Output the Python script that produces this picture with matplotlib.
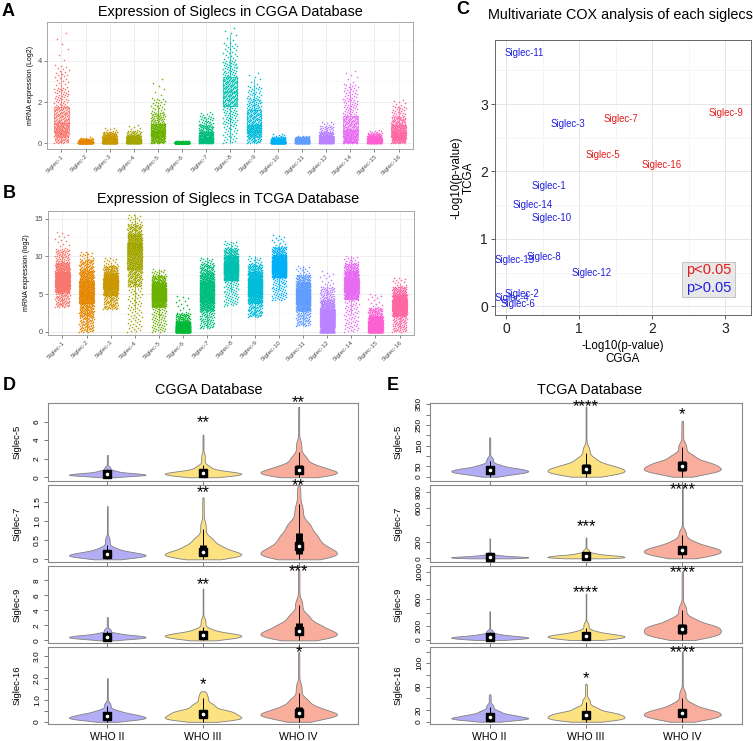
import numpy as np
import matplotlib
matplotlib.use('Agg')
import matplotlib.pyplot as plt

plt.rcParams['font.family'] = ['Liberation Sans', 'DejaVu Sans']

# ------------------------------------------------------------------ data
siglecs_strip = ['Siglec-1', 'Siglec-2', 'Siglec-3', 'Siglec-4', 'Siglec-5',
                 'Siglec-6', 'Siglec-7', 'Siglec-8', 'Siglec-9', 'Siglec-10',
                 'Siglec-11', 'Siglec-12', 'Siglec-14', 'Siglec-15', 'Siglec-16']
# quantile levels at which the strip-chart distributions were read
strip_probs = [0, 0.1, 0.25, 0.5, 0.75, 0.9, 0.98, 1.0]

cgga_q = [
    [0.0, 0.3, 0.55, 1.0, 1.75, 2.7, 3.8, 5.35],
    [0.0, 0.0, 0.02, 0.05, 0.08, 0.13, 0.2, 0.28],
    [0.0, 0.0, 0.03, 0.1, 0.25, 0.4, 0.55, 0.75],
    [0.0, 0.0, 0.05, 0.12, 0.25, 0.38, 0.6, 0.9],
    [0.0, 0.15, 0.35, 0.6, 0.95, 1.5, 2.2, 3.1],
    [0.0, 0.0, 0.0, 0.02, 0.04, 0.06, 0.08, 0.1],
    [0.0, 0.05, 0.12, 0.25, 0.55, 0.9, 1.3, 1.5],
    [0.0, 0.9, 1.8, 2.5, 3.2, 4.0, 4.9, 5.6],
    [0.0, 0.3, 0.55, 0.9, 1.6, 2.2, 2.8, 3.4],
    [0.0, 0.0, 0.02, 0.06, 0.12, 0.2, 0.3, 0.45],
    [0.0, 0.0, 0.04, 0.1, 0.17, 0.24, 0.3, 0.35],
    [0.0, 0.02, 0.08, 0.17, 0.35, 0.55, 0.85, 1.05],
    [0.0, 0.1, 0.3, 0.65, 1.3, 2.2, 2.9, 3.5],
    [0.0, 0.02, 0.07, 0.15, 0.25, 0.35, 0.5, 0.63],
    [0.0, 0.15, 0.3, 0.55, 0.9, 1.3, 1.8, 2.1],
]
tcga_q = [
    [3.3, 5.2, 6.0, 6.9, 7.9, 9.2, 11.0, 13.2],
    [0.0, 2.0, 3.8, 5.3, 6.8, 8.2, 9.6, 10.6],
    [3.0, 4.8, 5.7, 6.4, 7.1, 7.8, 8.8, 9.8],
    [0.0, 6.0, 8.3, 10.3, 11.8, 13.0, 14.3, 15.5],
    [0.0, 3.3, 4.2, 5.0, 5.8, 6.6, 7.5, 8.3],
    [0.0, 0.0, 0.2, 0.5, 0.9, 1.4, 2.5, 4.8],
    [0.5, 2.8, 4.0, 5.3, 6.6, 7.8, 9.0, 9.8],
    [3.5, 6.8, 7.6, 8.4, 9.2, 10.1, 11.1, 12.0],
    [2.0, 3.8, 4.8, 5.9, 7.0, 8.0, 9.0, 10.0],
    [4.2, 7.2, 7.9, 8.6, 9.4, 10.2, 11.3, 12.8],
    [0.8, 2.8, 3.7, 4.7, 5.7, 6.6, 7.6, 8.7],
    [0.0, 0.0, 0.7, 1.8, 3.0, 4.3, 6.0, 8.0],
    [0.0, 4.3, 5.3, 6.2, 7.2, 8.1, 9.1, 10.0],
    [0.0, 0.0, 0.3, 0.8, 1.4, 2.1, 3.2, 5.0],
    [0.0, 2.1, 2.8, 3.5, 4.2, 5.0, 6.0, 7.2],
]

cox_labels = ['Siglec-11', 'Siglec-3', 'Siglec-7', 'Siglec-9', 'Siglec-5',
              'Siglec-16', 'Siglec-1', 'Siglec-14', 'Siglec-10', 'Siglec-8',
              'Siglec-15', 'Siglec-12', 'Siglec-2', 'Siglec-4', 'Siglec-6']
cox_cgga = [0.25, 0.85, 1.57, 3.01, 1.32, 2.13, 0.59, 0.36, 0.63, 0.52,
            0.12, 1.17, 0.22, 0.08, 0.16]
cox_tcga = [3.76, 2.70, 2.78, 2.87, 2.24, 2.10, 1.78, 1.50, 1.31, 0.73,
            0.68, 0.49, 0.18, 0.12, 0.03]
cox_significant = [False, False, True, True, True, True, False, False, False,
                   False, False, False, False, False, False]

grades = ['WHO II', 'WHO III', 'WHO IV']
violin_genes = ['Siglec-5', 'Siglec-7', 'Siglec-9', 'Siglec-16']
violin_probs = [0, 0.1, 0.25, 0.5, 0.75, 0.9, 0.97, 1.0]

cgga_violin = [
    [[0.0, 0.15, 0.22, 0.33, 0.48, 0.75, 1.2, 2.4],
     [0.0, 0.18, 0.28, 0.45, 0.7, 1.3, 2.6, 4.6],
     [0.0, 0.25, 0.4, 0.75, 1.35, 2.4, 4.0, 7.6]],
    [[0.0, 0.05, 0.08, 0.13, 0.2, 0.32, 0.6, 1.4],
     [0.0, 0.06, 0.11, 0.2, 0.38, 0.6, 1.0, 1.63],
     [0.0, 0.08, 0.15, 0.35, 0.68, 1.0, 1.45, 1.95]],
    [[0.0, 0.2, 0.32, 0.5, 0.7, 1.0, 1.6, 3.1],
     [0.0, 0.25, 0.42, 0.7, 1.0, 1.6, 3.0, 6.9],
     [0.0, 0.35, 0.7, 1.3, 2.3, 3.6, 5.5, 9.5]],
    [[0.0, 0.1, 0.15, 0.25, 0.38, 0.55, 0.9, 2.0],
     [0.0, 0.1, 0.18, 0.35, 0.55, 0.85, 1.2, 1.4],
     [0.0, 0.15, 0.28, 0.42, 0.7, 1.1, 1.8, 3.2]],
]
tcga_violin = [
    [[0, 12, 20, 30, 42, 60, 95, 190],
     [0, 12, 22, 38, 60, 95, 150, 340],
     [0, 18, 30, 50, 75, 110, 165, 270]],
    [[0, 4, 8, 15, 25, 40, 70, 240],
     [0, 6, 12, 25, 40, 65, 110, 250],
     [0, 30, 60, 100, 150, 220, 350, 880]],
    [[0, 12, 25, 40, 60, 90, 150, 420],
     [0, 18, 35, 60, 90, 140, 260, 680],
     [0, 50, 90, 160, 230, 330, 520, 1000]],
    [[0, 3, 5, 8, 13, 20, 30, 47],
     [0, 3, 6, 11, 17, 26, 40, 65],
     [0, 5, 9, 15, 22, 33, 55, 120]],
]
cgga_stars = [['', '**', '**'], ['', '**', '**'], ['', '**', '***'], ['', '*', '*']]
cgga_star_y = [[0, 5.9, 8.0], [0, 1.75, 1.93], [0, 7.4, 9.2], [0, 1.7, 3.18]]
tcga_stars = [['', '****', '*'], ['', '***', '****'], ['', '****', '****'], ['', '*', '****']]
tcga_star_y = [[0, 337, 298], [0, 376, 820], [0, 688, 985], [0, 73, 118]]

cgga_ylims = [(-0.4, 8.0), (-0.07, 1.955), (-0.35, 9.9), (-0.1, 3.43)]
cgga_ticks = [[0, 2, 4, 6], [0, 0.5, 1.0, 1.5], [0, 2, 4, 6, 8],
              [0, 0.5, 1.0, 1.5, 2.0, 2.5, 3.0]]
cgga_ticklabels = [['0', '2', '4', '6'], ['0', '0.5', '1.0', '1.5'],
                   ['0', '2', '4', '6', '8'],
                   ['0', '', '1.0', '', '2.0', '', '3.0']]
tcga_ylims = [(-20.8, 356.6), (-44, 880), (-44, 1083), (-3.9, 128)]
tcga_ticks = [[0, 50, 100, 150, 200, 250, 300, 350], [0, 200, 400, 600, 800],
              [0, 200, 400, 600, 800, 1000], [0, 20, 40, 60, 80, 100, 120]]
tcga_ticklabels = [['0', '50', '', '150', '', '250', '', '350'],
                   ['0', '200', '', '600', '800'],
                   ['0', '200', '', '600', '', '1000'],
                   ['0', '20', '', '60', '', '100', '']]

violin_colors = ['#B2ADF5', '#FCE281', '#F9AD9C']

# ------------------------------------------------------------------ helpers
W, H = 753, 741
fig = plt.figure(figsize=(W / 100, H / 100), dpi=100)


def add_ax(x0, y0, x1, y1):
    return fig.add_axes([x0 / W, 1 - y1 / H, (x1 - x0) / W, (y1 - y0) / H])


def hcl_rgb(h, c=100.0, l=65.0):
    hr = np.deg2rad(h)
    u, v = c * np.cos(hr), c * np.sin(hr)
    Xn, Yn, Zn = 95.047, 100.0, 108.883
    un = 4 * Xn / (Xn + 15 * Yn + 3 * Zn)
    vn = 9 * Yn / (Xn + 15 * Yn + 3 * Zn)
    Y = Yn * ((l + 16) / 116) ** 3
    up = u / (13 * l) + un
    vp = v / (13 * l) + vn
    X = Y * 9 * up / (4 * vp)
    Z = Y * (12 - 3 * up - 20 * vp) / (4 * vp)
    X, Y, Z = X / 100, Y / 100, Z / 100
    r = 3.240479 * X - 1.537150 * Y - 0.498535 * Z
    g = -0.969256 * X + 1.875992 * Y + 0.041556 * Z
    b = 0.055648 * X - 0.204043 * Y + 1.057311 * Z

    def gam(t):
        t = 12.92 * t if t <= 0.0031308 else 1.055 * t ** (1 / 2.4) - 0.055
        return min(max(t, 0.0), 1.0)
    return (gam(r), gam(g), gam(b))


n_cat = len(siglecs_strip)
hues = np.linspace(15, 375, n_cat + 1)[:n_cat]
cat_colors = [hcl_rgb(h) for h in hues]


def strip_panel(ax, qlist, npts, ylim, yticks, yminor, ylabel):
    positions = np.arange(1, n_cat + 1)
    ax.set_facecolor('white')
    for i, q in enumerate(qlist):
        p = np.linspace(0, 1, npts)
        vals = np.interp(p, strip_probs, q)
        jit = ((np.arange(npts) * 0.6180339887) % 1.0) * 2 - 1
        col = cat_colors[i]
        ax.boxplot(vals, positions=[positions[i]], widths=0.6, showfliers=False,
                   manage_ticks=False, showcaps=False,
                   boxprops=dict(color=col, lw=0.5),
                   whiskerprops=dict(color=col, lw=0.5),
                   medianprops=dict(color=col, lw=0.5), zorder=2)
        ax.scatter(positions[i] + jit * 0.3, vals, s=1.3, color=col,
                   linewidths=0, zorder=3)
    ax.set_xlim(0.4, n_cat + 0.6)
    ax.set_ylim(*ylim)
    ax.set_xticks(positions)
    ax.set_xticklabels(siglecs_strip, rotation=45, ha='right',
                       rotation_mode='anchor', fontsize=4.6, color='#4D4D4D')
    ax.set_yticks(yticks)
    ax.set_yticks(yminor, minor=True)
    ax.tick_params(axis='y', which='minor', length=0)
    ax.tick_params(axis='both', which='major', length=2, width=0.5,
                   color='#555555', pad=1.5)
    ax.tick_params(axis='y', labelsize=5.5, labelcolor='#4D4D4D')
    ax.grid(True, which='major', color='#EBEBEB', lw=0.6, zorder=0)
    ax.grid(True, which='minor', axis='y', color='#F4F4F4', lw=0.4, zorder=0)
    ax.set_axisbelow(True)
    for s in ax.spines.values():
        s.set_color('#999999')
        s.set_linewidth(0.6)
    ax.set_ylabel(ylabel, fontsize=5, labelpad=3)


def violin_panel(ax, groups, ylim, ticks, ticklabels, ylabel, stars, star_y,
                 show_x):
    data = [np.interp(np.linspace(0, 1, 400), violin_probs, g) for g in groups]
    parts = ax.violinplot(data, positions=[1, 2, 3], widths=0.8,
                          showextrema=False, bw_method=0.25)
    for body, fc in zip(parts['bodies'], violin_colors):
        body.set_facecolor(fc)
        body.set_edgecolor('#808080')
        body.set_linewidth(0.6)
        body.set_alpha(1)
    for k, d in enumerate(data):
        pos = k + 1
        q1, med, q3 = np.percentile(d, [25, 50, 75])
        iqr = q3 - q1
        lo = d[d >= q1 - 1.5 * iqr].min()
        hi = d[d <= q3 + 1.5 * iqr].max()
        ax.vlines(pos, lo, hi, color='black', lw=0.7, zorder=3)
        ax.vlines(pos, q1, q3, color='black', lw=5, zorder=4)
        ax.plot([pos], [med], marker='s', ms=5.5, color='black', zorder=5)
        ax.plot([pos], [med], marker='o', ms=2.6, color='white', zorder=6,
                markeredgewidth=0)
        if stars[k]:
            ax.text(pos, star_y[k], stars[k], ha='center', va='center',
                    fontsize=12, zorder=7, clip_on=False)
    ax.set_xlim(0.38, 3.62)
    ax.set_ylim(*ylim)
    ax.set_xticks([1, 2, 3])
    if show_x:
        ax.set_xticklabels(grades, fontsize=7.6)
    else:
        ax.set_xticklabels([])
    ax.set_yticks(ticks)
    ax.set_yticklabels(ticklabels, rotation=90, va='center', fontsize=6)
    ax.tick_params(axis='both', length=3, width=0.5, color='#444444', pad=2)
    ax.tick_params(axis='x', pad=3)
    for s in ax.spines.values():
        s.set_color('#888888')
        s.set_linewidth(0.8)
    ax.set_ylabel(ylabel, fontsize=6.8)


# ------------------------------------------------------------------ panel A
axA = add_ax(47, 22, 413, 149)
strip_panel(axA, cgga_q, 300, (-0.29, 5.9), [0, 2, 4], [1, 3, 5],
            'mRNA expression (Log2)')
fig.text(230 / W, 1 - 12 / H, 'Expression of Siglecs in CGGA Database',
         ha='center', va='center', fontsize=10.4)

# ------------------------------------------------------------------ panel B
axB = add_ax(48, 211, 414, 335)
strip_panel(axB, tcga_q, 650, (-0.4, 16.0), [0, 5, 10, 15], [2.5, 7.5, 12.5],
            'mRNA expression (log2)')
fig.text(228 / W, 1 - 199 / H, 'Expression of Siglecs in TCGA Database',
         ha='center', va='center', fontsize=10.4)

# ------------------------------------------------------------------ panel C
axC = add_ax(495, 40, 751, 315)
for lab, xv, yv, sig in zip(cox_labels, cox_cgga, cox_tcga, cox_significant):
    axC.text(xv, yv, lab, ha='center', va='center', fontsize=6.9,
             color='#E41A1C' if sig else '#1F1FE0', clip_on=True)
axC.set_xlim(-0.15, 3.35)
axC.set_ylim(-0.13, 3.95)
axC.set_xticks([0, 1, 2, 3])
axC.set_yticks([0, 1, 2, 3])
axC.set_xticks([0.5, 1.5, 2.5], minor=True)
axC.set_yticks([0.5, 1.5, 2.5, 3.5], minor=True)
axC.tick_params(which='minor', length=0)
axC.tick_params(which='major', length=3, width=0.6, color='#444444',
                labelsize=10, labelcolor='#222222', pad=2)
axC.grid(True, which='major', color='#E6E6E6', lw=0.7)
axC.grid(True, which='minor', color='#F2F2F2', lw=0.5)
axC.set_axisbelow(True)
for s in axC.spines.values():
    s.set_color('#666666')
    s.set_linewidth(0.7)
axC.set_xlabel('-Log10(p-value)\nCGGA', fontsize=8.4, linespacing=1.05,
               labelpad=3)
axC.set_ylabel('-Log10(p-value)\nTCGA', fontsize=8.4, linespacing=1.05,
               labelpad=4)
leg_x = 686
axC.text((leg_x - 495) / 256, 1 - (270 - 40) / 275, 'p<0.05',
         transform=axC.transAxes, color='#E41A1C', fontsize=10.5,
         ha='left', va='center', zorder=5)
axC.text((leg_x - 495) / 256, 1 - (288 - 40) / 275, 'p>0.05',
         transform=axC.transAxes, color='#1F1FE0', fontsize=10.5,
         ha='left', va='center', zorder=5)
axC.add_patch(plt.Rectangle(((682 - 495) / 256, 1 - (297 - 40) / 275),
                            53 / 256, 35 / 275, transform=axC.transAxes,
                            facecolor='#E8E8E8', edgecolor='#BBBBBB',
                            lw=0.6, zorder=4))
fig.text(620 / W, 1 - 15 / H, 'Multivariate COX analysis of each siglecs',
         ha='center', va='center', fontsize=10.4)

# ------------------------------------------------------------------ panels D, E
rows = [(403, 481), (485, 562), (566, 643), (647, 724)]
for r, (y0, y1) in enumerate(rows):
    axD = add_ax(48, y0, 358, y1)
    violin_panel(axD, cgga_violin[r], cgga_ylims[r], cgga_ticks[r],
                 cgga_ticklabels[r], violin_genes[r], cgga_stars[r],
                 cgga_star_y[r], r == 3)
    axD.yaxis.set_label_coords(-0.084, 0.5)
    axE = add_ax(430, y0, 742, y1)
    violin_panel(axE, tcga_violin[r], tcga_ylims[r], tcga_ticks[r],
                 tcga_ticklabels[r], violin_genes[r], tcga_stars[r],
                 tcga_star_y[r], r == 3)
    axE.yaxis.set_label_coords(-0.087, 0.5)

fig.text(209 / W, 1 - 390 / H, 'CGGA Database', ha='center', va='center',
         fontsize=10.4)
fig.text(590 / W, 1 - 390 / H, 'TCGA Database', ha='center', va='center',
         fontsize=10.4)

# ------------------------------------------------------------------ letters
for letter, (lx, ly) in zip('ABCDE', [(8, 11), (9, 194), (463, 9),
                                       (9, 386), (393, 386)]):
    fig.text(lx / W, 1 - ly / H, letter, ha='center', va='center',
             fontsize=13, fontweight='bold')

fig.savefig('out.png', dpi=100)
